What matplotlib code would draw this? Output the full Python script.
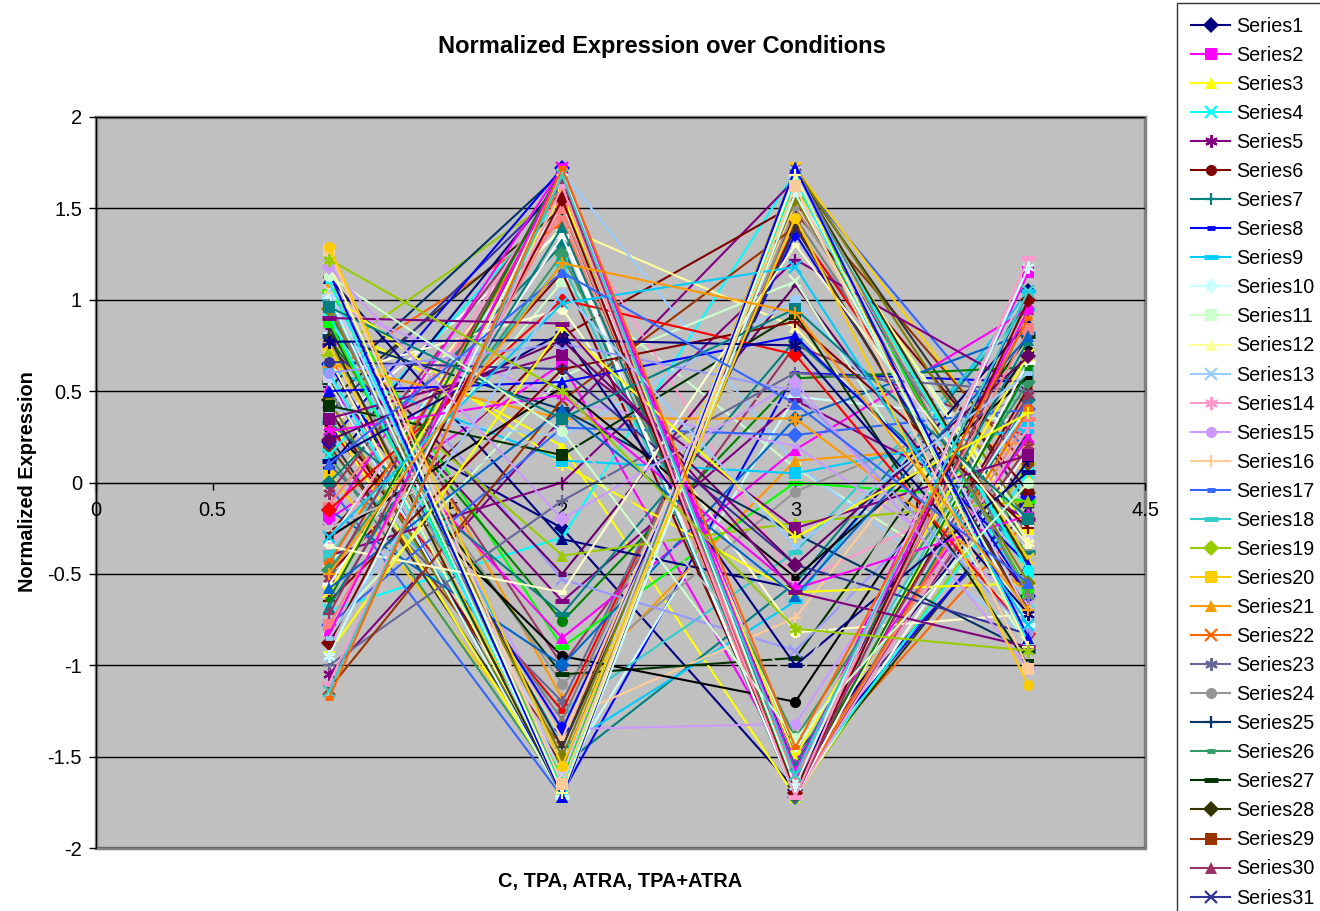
import numpy as np
import matplotlib
matplotlib.use("Agg")
import matplotlib.pyplot as plt
from matplotlib.lines import Line2D
from matplotlib.patches import Rectangle

plt.rcParams['font.family'] = ['Liberation Sans', 'DejaVu Sans']

conditions = [1, 2, 3, 4]   # C, TPA, ATRA, TPA+ATRA

# series that dip at TPA and peak at ATRA
dip_peak = [
    [1.29, -1.55, 1.45, -1.11], [1.27, -1.65, 1.62, -1.02], [1.20, -1.70, 1.68, -0.90],
    [1.15, -1.72, 1.72, -0.85], [1.10, -1.68, 1.66, -0.88], [1.05, -1.60, 1.70, -0.72],
    [1.02, -1.72, 1.58, -0.78], [0.98, -1.65, 1.72, -0.62], [0.95, -1.50, 1.55, -0.55],
    [0.92, -1.70, 1.68, -0.48], [0.88, -1.62, 1.64, -0.60], [0.85, -1.45, 1.40, -0.70],
    [0.80, -1.72, 1.71, -0.45], [0.78, -1.58, 1.50, -0.36], [0.75, -1.66, 1.62, -0.42],
    [0.72, -1.40, 1.52, -0.55], [0.68, -1.70, 1.66, -0.33], [0.65, -1.35, 1.36, -0.62],
    [0.60, -1.60, 1.70, -0.50], [0.58, -1.48, 1.60, -0.32], [0.55, -1.72, 1.58, -0.24],
    [0.50, -1.30, 1.45, -0.48], [0.45, -1.65, 1.72, -0.22], [0.40, -1.55, 1.48, -0.05],
    [0.35, -1.70, 1.62, -0.27], [0.30, -1.25, 1.40, -0.45], [0.25, -1.62, 1.70, -0.12],
    [0.20, -1.45, 1.56, 0.08], [0.15, -1.68, 1.65, -0.35], [0.10, -1.20, 1.38, -0.28],
    [0.05, -1.58, 1.72, 0.02], [-0.02, -1.72, 1.68, 0.16],
]

# series that peak at TPA and dip at ATRA
peak_dip = [
    [-1.18, 1.72, -1.45, 0.90], [-1.14, 1.68, -1.60, 1.05], [-1.10, 1.62, -1.72, 1.23],
    [-0.95, 1.70, -1.66, 1.18], [-0.88, 1.55, -1.70, 1.00], [-0.83, 1.72, -1.58, 0.95],
    [-0.78, 1.50, -1.62, 0.84], [-0.72, 1.66, -1.72, 0.92], [-0.68, 1.40, -1.55, 0.78],
    [-0.64, 1.72, -1.68, 0.62], [-0.60, 1.58, -1.50, 0.70], [-0.56, 1.35, -1.72, 0.66],
    [-0.52, 1.70, -1.64, 0.48], [-0.48, 1.25, -1.40, 0.55], [-0.44, 1.62, -1.70, 0.40],
    [-0.40, 1.20, -1.58, 0.60], [-0.36, 1.68, -1.72, 0.30], [-0.32, 1.52, -1.46, 0.42],
    [-0.28, 1.15, -1.66, 0.52], [-0.20, 1.72, -1.52, 0.25], [-0.12, 1.45, -1.70, 0.35],
    [-0.06, 1.60, -1.62, 0.20], [0.00, 1.30, -1.72, 0.45], [0.08, 1.66, -1.56, 0.12],
    [0.15, 1.55, -1.68, 0.05], [0.22, 1.72, -1.60, -0.08], [0.30, 1.38, -1.72, 0.18],
    [0.38, 1.62, -1.48, -0.15], [0.45, 1.50, -1.66, -0.06], [0.52, 1.70, -1.70, 0.28],
    [0.60, 1.42, -1.60, -0.20], [0.70, 1.58, -1.72, 0.10],
]

# everything else
mixed = [
    [-0.50, 1.20, 0.93, -0.70], [0.10, 1.15, 0.43, -0.55], [-0.85, 1.05, -0.35, 0.60],
    [-0.30, 0.98, 1.18, -0.78], [0.90, 0.87, -0.60, -0.90], [0.77, 0.78, 0.75, -0.72],
    [0.23, 0.78, -0.45, 0.69], [0.60, 0.76, 0.50, -0.82], [0.35, 0.70, -0.25, 0.15],
    [-0.65, 0.62, 0.88, -0.25], [0.50, 0.55, 0.80, -0.45], [-0.30, 0.52, -0.52, 0.58],
    [-1.13, 0.45, 1.40, -0.72], [0.80, 0.40, -0.28, -0.92], [0.65, 0.35, 0.35, -0.60],
    [-0.78, 0.30, 0.26, 0.40], [0.40, 0.25, 1.00, -0.45], [0.62, 0.12, 0.05, 0.30],
    [-0.40, 0.00, 1.22, 0.50], [1.12, -0.31, -0.58, 0.88], [0.85, -0.50, 1.08, -0.62],
    [1.00, -0.53, -0.92, 0.35], [0.75, -0.65, 0.45, -0.20], [0.78, -0.76, 0.57, 0.63],
    [0.52, -0.85, 0.18, 0.95], [1.05, -0.90, 0.00, -0.10], [0.30, -0.95, -1.20, 0.72],
    [0.92, -1.00, 0.75, 0.25], [0.55, -1.05, -0.96, 0.80], [0.70, -1.10, -0.05, 0.48],
    [1.08, -1.18, 0.12, 0.22], [0.18, -1.25, -0.38, 0.95], [0.48, -1.30, -0.74, 0.90],
    [0.85, -1.35, -1.32, 0.58], [-0.62, 1.52, -0.55, 0.05], [-0.95, 1.70, 0.10, -0.85],
    [0.00, 1.40, 0.85, -0.58], [-0.45, 1.10, 0.08, -0.72], [0.80, -1.60, 0.47, 0.33],
    [1.00, -1.45, -0.65, 1.05], [0.55, -1.70, 0.60, 0.55], [0.40, -1.55, -0.55, 0.98],
    [-0.50, 0.80, 1.52, -0.48], [-1.05, 0.35, 1.66, -0.60], [-0.70, -0.30, 1.70, -0.65],
    [0.88, 0.20, -1.72, 0.62], [-0.20, 0.65, -1.60, 1.15], [0.45, -0.25, -1.68, 1.05],
]

extra = [
    [1.22, 0.50, -0.80, -0.92], [1.18, -0.20, 0.55, -1.02], [1.13, 0.28, -1.40, 0.00],
    [0.96, 0.35, 0.95, -0.20], [-0.93, 0.85, -0.30, 0.38], [-0.58, 0.40, -0.62, 0.80],
    [-0.35, -0.60, 1.30, -0.35], [-0.25, 0.30, -1.10, 1.05], [0.12, 0.82, -1.00, 0.06],
    [0.28, 0.48, -0.58, -0.18], [-0.15, 1.00, 0.70, -0.83], [0.66, 0.62, -0.45, -0.83],
    [0.42, 0.15, 0.92, -1.00], [-1.00, -0.10, 0.60, 0.50], [0.72, -0.40, -0.22, -0.10],
    [0.98, 0.45, 0.20, -0.66], [-0.80, 0.58, 1.10, -0.90], [0.33, -0.72, 0.78, -0.38],
    [1.03, 0.10, -0.60, -0.55], [-0.15, -1.00, 0.35, 0.82], [0.58, 0.95, -0.82, -0.72],
    [-0.42, 0.75, 0.40, -0.75],
]

# Excel 2003 default series colours and markers
excel_colors = [
    '#000080', '#FF00FF', '#FFFF00', '#00FFFF', '#800080', '#800000', '#008080', '#0000FF',
    '#00CCFF', '#CCFFFF', '#CCFFCC', '#FFFF99', '#99CCFF', '#FF99CC', '#CC99FF', '#FFCC99',
    '#3366FF', '#33CCCC', '#99CC00', '#FFCC00', '#FF9900', '#FF6600', '#666699', '#969696',
    '#003366', '#339966', '#003300', '#333300', '#993300', '#993366', '#333399', '#333333',
    '#000000', '#FFFFFF', '#FF0000', '#00FF00', '#0000FF', '#FFFF00', '#FF00FF', '#00FFFF',
    '#800000', '#008000', '#000080', '#808000', '#800080', '#008080', '#C0C0C0', '#808080',
    '#9999FF', '#993366', '#FFFFCC', '#CCFFFF', '#660066', '#FF8080', '#0066CC', '#CCCCFF',
]
excel_markers = ['D', 's', '^', 'x', (6, 2, 0), 'o', '+', 'short', 'long']

# interleave the groups so colours spread over all shapes
groups = (peak_dip, mixed, dip_peak, extra)
series = []
i = 0
while i < max(len(g) for g in groups):
    for grp in groups:
        if i < len(grp):
            series.append(grp[i])
    i += 1
series = series[::-1]


def marker_style(k):
    m = excel_markers[k % 9]
    c = excel_colors[k % 56]
    if m == 'short':
        return dict(marker='_', markersize=6, markeredgewidth=3.5, color=c)
    if m == 'long':
        return dict(marker='_', markersize=10, markeredgewidth=3.5, color=c)
    if m in ('x', '+', (6, 2, 0)):
        return dict(marker=m, markersize=9, markeredgewidth=1.6, color=c)
    return dict(marker=m, markersize=8, markeredgewidth=0, color=c)


fig = plt.figure(figsize=(13.2, 9.11), dpi=100)
ax = fig.add_axes([96 / 1320, 1 - 848 / 911, (1145 - 96) / 1320, (848 - 117) / 911])
ax.set_facecolor('#C0C0C0')

for k, vals in enumerate(series):
    st = marker_style(k)
    ax.plot(conditions, vals, lw=1.5, clip_on=False, **st)

ax.set_xlim(0, 4.5)
ax.set_ylim(-2, 2)
ax.set_xticks(np.arange(0, 4.51, 0.5))
ax.set_xticklabels(['0', '0.5', '1', '1.5', '2', '2.5', '3', '3.5', '4', '4.5'])
ax.set_yticks(np.arange(-2, 2.01, 0.5))
ax.set_yticklabels(['-2', '-1.5', '-1', '-0.5', '0', '0.5', '1', '1.5', '2'])
ax.yaxis.grid(True, color='black', lw=1)
ax.set_axisbelow(True)

ax.spines['bottom'].set_position(('data', 0))
ax.spines['bottom'].set_color('black')
ax.spines['left'].set_color('black')
ax.spines['top'].set_visible(False)
ax.spines['right'].set_visible(False)
ax.add_patch(Rectangle((0, 0), 1, 1, transform=ax.transAxes, fill=False,
                       edgecolor='#808080', lw=2.5, zorder=0.5, clip_on=False))
ax.tick_params(axis='both', direction='out', length=5, width=1, labelsize=14.5, colors='black')
ax.tick_params(axis='x', pad=8)
ax.tick_params(axis='y', pad=5)

fig.text(662 / 1320, 1 - 47 / 911, 'Normalized Expression over Conditions',
         ha='center', va='center', fontsize=17, fontweight='bold')
fig.text(620 / 1320, 1 - 881 / 911, 'C, TPA, ATRA, TPA+ATRA',
         ha='center', va='center', fontsize=14.4, fontweight='bold')
fig.text(28 / 1320, 1 - 482 / 911, 'Normalized Expression', rotation=90,
         ha='center', va='center', fontsize=14.4, fontweight='bold')

# legend only shows what fits in the figure (Series1..Series31)
handles = []
labels = []
for k in range(31):
    st = marker_style(k)
    handles.append(Line2D([0], [0], lw=1.5, **st))
    labels.append('Series%d' % (k + 1))
leg = fig.legend(handles, labels, loc='upper left', bbox_to_anchor=(1177 / 1320, 1 - 3 / 911),
                 fontsize=14.2, frameon=True, fancybox=False, borderpad=0.7,
                 labelspacing=0.51, handlelength=2.0, handletextpad=0.3, borderaxespad=0)
leg.get_frame().set_edgecolor('black')
leg.get_frame().set_linewidth(1)

fig.savefig('out.png', dpi=100)
